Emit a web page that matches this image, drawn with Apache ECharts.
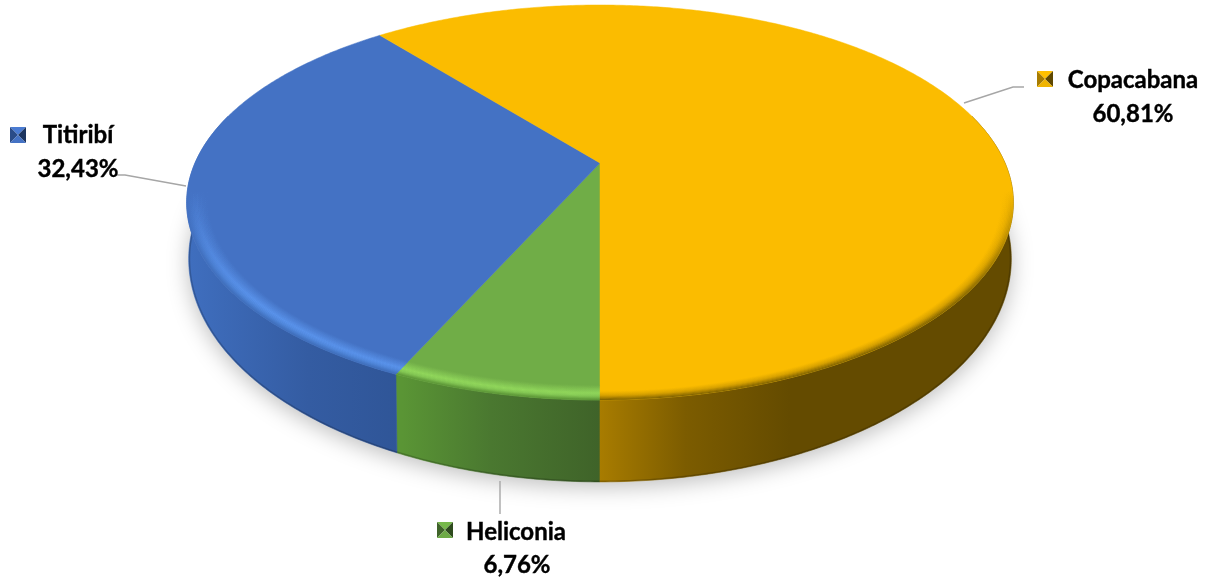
<!DOCTYPE html>
<html>
<head>
<meta charset="utf-8">
<style>html,body{margin:0;padding:0;background:#fff}#c{width:1215px;height:581px}</style>
<script src="https://cdn.jsdelivr.net/npm/echarts@6/dist/echarts.min.js"></script>
</head>
<body>
<div id="c"></div>
<script>
// Data, clockwise from the front (6 o'clock) of the pie
const categories = ['Heliconia', 'Titiribí', 'Copacabana'];
const percents = [6.76, 32.43, 60.81];
const valueLabels = ['6,76%', '32,43%', '60,81%'];

// Palette per slice
const topColors = ['#70AD47', '#4472C4', '#FBBC00'];
// bevel: [ring position 0..1 from inner to outer edge, rgb]
const bevelStops = [
  [[0, [112, 173, 71]], [0.55, [146, 216, 92]], [0.75, [132, 200, 84]], [1, [88, 146, 52]]],
  [[0, [68, 114, 196]], [0.55, [90, 148, 236]], [0.75, [80, 136, 220]], [1, [62, 108, 184]]],
  [[0, [251, 188, 0]], [0.4, [251, 188, 0]], [0.7, [214, 160, 0]], [1, [124, 95, 0]]]
];
const sideStops = [
  [[0, '#5A9535'], [0.45, '#4A7830'], [1, '#3F6329']],
  [[0, '#3F6EBE'], [0.55, '#345CA2'], [1, '#2F5597']],
  [[0, '#A87C00'], [0.45, '#7C5C00'], [1, '#644B00']]
];
const sideGradientX = [[402, 600], [190, 405], [600, 790]];
const markerColors = [
  ['#76B84A', '#3F6329', '#2E4A1E', '#6DAA45'],
  ['#4A7BD2', '#2A4C88', '#1C3560', '#4472C4'],
  ['#FFC000', '#A87C00', '#5F4800', '#F0B400']
];

// Perspective pie geometry
const cx = 600, persp = -0.2;
const topRim = { yc: 163, a: 189.6, b: 405 };
const lowRim = { yc: 214.4, a: 214, b: 403 };

// Label layout
const labelBoxes = [
  { marker: [437, 522], nameX: 516, nameY: 532, valX: 517, valY: 565, line: [[500, 481], [500, 514]] },
  { marker: [10, 127], nameX: 78, nameY: 135, valX: 78, valY: 169, line: [[186, 186], [125, 175], [116, 175]] },
  { marker: [1037, 71], nameX: 1133, nameY: 80, valX: 1133, valY: 114, line: [[964, 103], [1013, 87], [1024, 87]] }
];
const FONT = 'bold 24px Lato, "Open Sans", sans-serif';

function project(rim, theta, r) {
  const u = -Math.sin(theta) * r, v = Math.cos(theta) * r;
  const d = 1 + persp * v;
  return [cx + rim.b * u / d, rim.yc + rim.a * v / d];
}
function arc(rim, t0, t1, r) {
  const n = Math.max(2, Math.ceil(Math.abs(t1 - t0) / 0.01));
  const pts = [];
  for (let i = 0; i <= n; i++) pts.push(project(rim, t0 + (t1 - t0) * i / n, r));
  return pts;
}
const TAU = Math.PI * 2;
const spans = [];
percents.reduce((acc, p) => { spans.push([acc / 100 * TAU, (acc + p) / 100 * TAU]); return acc + p; }, 0);

// Visible front of the wall: theta within 105 degrees of the front
function frontParts(s) {
  const lim = 105 / 360 * TAU, parts = [];
  const a = Math.max(s[0], 0), b = Math.min(s[1], lim);
  if (b > a) parts.push([a, b]);
  const c = Math.max(s[0], TAU - lim), d = Math.min(s[1], TAU);
  if (d > c) parts.push([c, d]);
  return parts;
}
function mix(stops, t) {
  for (let i = 1; i < stops.length; i++) {
    if (t <= stops[i][0]) {
      const f = (t - stops[i - 1][0]) / (stops[i][0] - stops[i - 1][0]);
      return stops[i - 1][1].map((c, k) => Math.round(c + (stops[i][1][k] - c) * f));
    }
  }
  return stops[stops.length - 1][1];
}
const seriesData = categories.map((n, i) => ({ name: n, value: percents[i] }));

function renderShadow(params, api) {
  return {
    type: 'polygon',
    shape: { points: arc(lowRim, 0, TAU, 1) },
    style: { fill: '#d8d8d8', shadowBlur: 22, shadowColor: 'rgba(0,0,0,0.26)', shadowOffsetY: 5 }
  };
}
function renderSide(params, api) {
  const i = params.dataIndex, gx = sideGradientX[i];
  const fill = new echarts.graphic.LinearGradient(gx[0], 0, gx[1], 0,
    sideStops[i].map(s => ({ offset: s[0], color: s[1] })), true);
  const children = [];
  frontParts(spans[i]).forEach(p => {
    children.push({
      type: 'polygon',
      shape: { points: arc(topRim, p[0], p[1], 1).concat(arc(lowRim, p[1], p[0], 1)) },
      style: { fill: fill, stroke: fill, lineWidth: 0.6 }
    });
    children.push({
      type: 'polyline',
      shape: { points: arc(lowRim, p[0], p[1], 0.998) },
      style: { stroke: 'rgba(0,0,0,0.2)', lineWidth: 1.4, fill: 'none' }
    });
  });
  return { type: 'group', children };
}
function renderTop(params, api) {
  const i = params.dataIndex, s = spans[i];
  return {
    type: 'polygon',
    shape: { points: [[cx, topRim.yc]].concat(arc(topRim, s[0], s[1], 1)) },
    style: { fill: topColors[i], stroke: topColors[i], lineWidth: 0.5 }
  };
}
function renderBevel(params, api) {
  const i = params.dataIndex;
  const inner = 0.95, outer = 1.0, steps = 16;
  const children = [];
  frontParts(spans[i]).forEach(p => {
    for (let k = 0; k < steps; k++) {
      const rgb = mix(bevelStops[i], (k + 0.5) / steps).join(',');
      const fill = new echarts.graphic.LinearGradient(0, 190, 0, 300, [
        { offset: 0, color: 'rgba(' + rgb + ',0)' }, { offset: 1, color: 'rgba(' + rgb + ',1)' }
      ], true);
      const r0 = inner + (outer - inner) * k / steps, r1 = inner + (outer - inner) * (k + 1) / steps;
      children.push({
        type: 'polygon',
        shape: { points: arc(topRim, p[0], p[1], r1).concat(arc(topRim, p[1], p[0], r0)) },
        style: { fill: fill, stroke: fill, lineWidth: 0.4 }
      });
    }
  });
  return { type: 'group', children };
}
function renderLabel(params, api) {
  const i = params.dataIndex, L = labelBoxes[i], c = markerColors[i];
  const x = L.marker[0], y = L.marker[1], w = 16, m = [x + w / 2, y + w / 2];
  const tri = (a, b, col) => ({ type: 'polygon', shape: { points: [a, b, m] }, style: { fill: col } });
  const TL = [x, y], TR = [x + w, y], BR = [x + w, y + w], BL = [x, y + w];
  const txt = (s, tx, ty) => ({ type: 'text', style: { text: s, x: tx, y: ty, font: FONT, fill: '#000', stroke: '#000', lineWidth: 0.4, align: 'center', verticalAlign: 'middle' } });
  return {
    type: 'group',
    children: [
      { type: 'polyline', shape: { points: L.line }, style: { stroke: '#A6A6A6', lineWidth: 1.4, fill: 'none' } },
      tri(TL, TR, c[0]), tri(TL, BL, c[1]), tri(TR, BR, c[2]), tri(BL, BR, c[3]),
      txt(categories[i], L.nameX, L.nameY),
      txt(valueLabels[i], L.valX, L.valY)
    ]
  };
}
const silent = { silent: true, animation: false, coordinateSystem: 'none', type: 'custom' };
const chart = echarts.init(document.getElementById('c'), null, { renderer: 'canvas' });
chart.setOption({
  backgroundColor: '#fff',
  animation: false,
  series: [
    Object.assign({}, silent, { name: 'shadow', z: 1, data: [{ value: 100 }], renderItem: renderShadow }),
    Object.assign({}, silent, { name: 'side', z: 2, data: seriesData, renderItem: renderSide }),
    Object.assign({}, silent, { name: 'top', z: 3, data: seriesData, renderItem: renderTop }),
    Object.assign({}, silent, { name: 'bevel', z: 4, data: seriesData, renderItem: renderBevel }),
    Object.assign({}, silent, { name: 'labels', z: 5, data: seriesData, renderItem: renderLabel })
  ]
});
</script>
</body>
</html>
